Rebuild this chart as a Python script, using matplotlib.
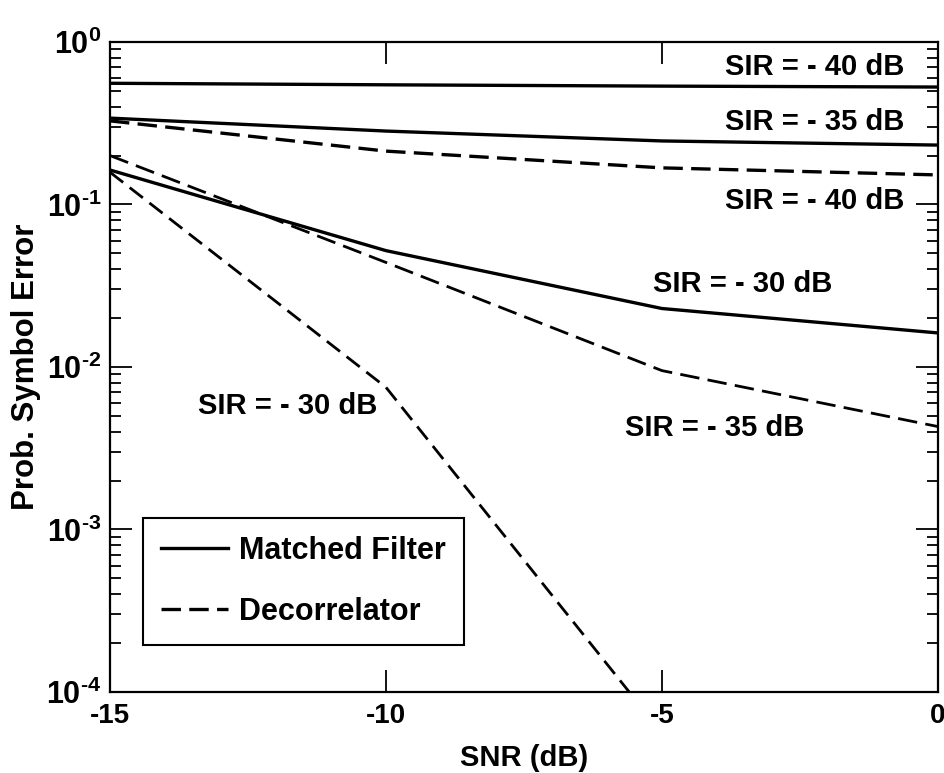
import matplotlib
matplotlib.use("Agg")
import matplotlib.pyplot as plt
from matplotlib.ticker import LogLocator, FixedLocator, FixedFormatter, NullFormatter

plt.rcParams["font.family"] = ["Liberation Sans", "DejaVu Sans"]
plt.rcParams["font.weight"] = "bold"
plt.rcParams["mathtext.fontset"] = "custom"
plt.rcParams["mathtext.rm"] = "Liberation Sans:bold"
plt.rcParams["mathtext.default"] = "rm"
plt.rcParams["axes.unicode_minus"] = False
plt.rcParams["lines.scale_dashes"] = False

# SNR (dB) sample points
snr = [-15, -10, -5, 0]

# matched filter curves
mf_sir40 = [0.557, 0.545, 0.535, 0.528]
mf_sir35 = [0.34, 0.283, 0.246, 0.232]
mf_sir30 = [0.163, 0.052, 0.0229, 0.0162]

# decorrelator curves
dec_sir40 = [0.327, 0.213, 0.168, 0.152]
dec_sir35 = [0.20, 0.044, 0.0095, 0.0043]
dec_sir30 = [0.158, 0.0075, 5.6e-5]

# y tick labels
ytick_vals = [1e-4, 1e-3, 1e-2, 1e-1, 1]
ytick_text = [r"$10^{\text{-4}}$", r"$10^{\text{-3}}$", r"$10^{\text{-2}}$",
              r"$10^{\text{-1}}$", r"$10^{\text{0}}$"]

# curve annotations: text, x, y, alignment
labels = [
    ("SIR = - 40 dB", -0.6, 0.70, "right"),
    ("SIR = - 35 dB", -0.6, 0.322, "right"),
    ("SIR = - 40 dB", -0.6, 0.105, "right"),
    ("SIR = - 30 dB", -5.16, 0.0324, "left"),
    ("SIR = - 35 dB", -5.67, 0.00421, "left"),
    ("SIR = - 30 dB", -13.41, 0.00575, "left"),
]

fig = plt.figure(figsize=(9.44, 7.73), dpi=100)
ax = fig.add_axes([0.1165, 0.1048, 0.877, 0.8409])

lw = 2.4
dash = (14, 6)
ax.plot(snr, mf_sir40, color="black", lw=lw, label="Matched Filter")
ax.plot(snr, mf_sir35, color="black", lw=lw)
ax.plot(snr, mf_sir30, color="black", lw=lw)
ax.plot(snr, dec_sir40, color="black", lw=lw, dashes=dash, label="Decorrelator")
ax.plot(snr, dec_sir35, color="black", lw=2.0, dashes=dash)
ax.plot(snr[:len(dec_sir30)], dec_sir30, color="black", lw=2.0, dashes=(12, 6))

for txt, x, y, ha in labels:
    ax.text(x, y, txt, fontsize=21, ha=ha, va="center", fontweight="bold")

ax.set_yscale("log")
ax.set_xlim(-15, 0)
ax.set_ylim(1e-4, 1)
ax.xaxis.set_major_locator(FixedLocator([-15, -10, -5, 0]))
ax.yaxis.set_major_locator(FixedLocator(ytick_vals))
ax.yaxis.set_major_formatter(FixedFormatter(ytick_text))
ax.yaxis.set_minor_locator(LogLocator(base=10, subs=range(2, 10), numticks=10))
ax.yaxis.set_minor_formatter(NullFormatter())

ax.tick_params(which="both", direction="in", top=True, right=True, width=1.3)
ax.tick_params(which="major", length=16)
ax.tick_params(which="minor", length=8)
ax.tick_params(axis="x", which="major", labelsize=20, pad=8)
ax.tick_params(axis="y", which="major", labelsize=22, pad=6)
for sp in ax.spines.values():
    sp.set_linewidth(1.6)

ax.set_xlabel("SNR (dB)", fontsize=21, fontweight="bold", labelpad=11)
ax.set_ylabel("Prob. Symbol Error", fontsize=22.5, fontweight="bold", labelpad=4)

leg = ax.legend(loc="upper left", bbox_to_anchor=(0.04, 0.268), borderaxespad=0,
                fontsize=22, handlelength=2.2, labelspacing=1.03, fancybox=False,
                framealpha=1, edgecolor="black", borderpad=0.58, handletextpad=0.36)
leg.get_frame().set_linewidth(1.5)

fig.savefig("out.png", dpi=100)
